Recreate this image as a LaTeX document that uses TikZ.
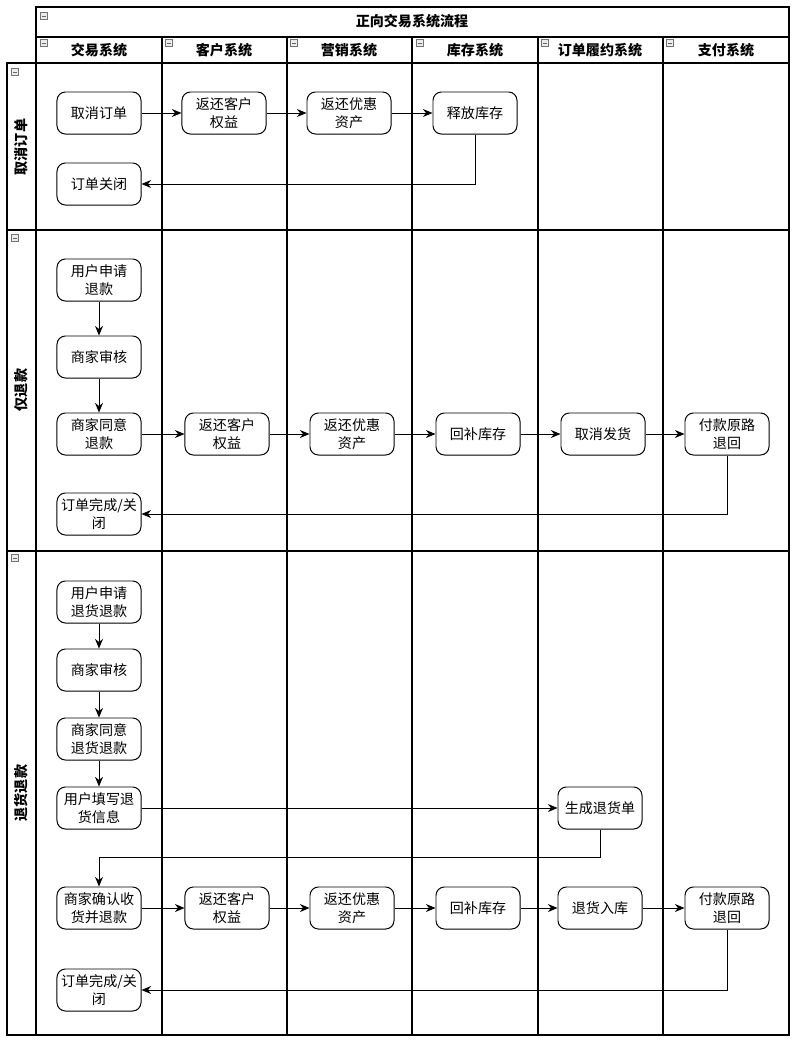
\documentclass[tikz,border=0pt]{standalone}
\usepackage{fontspec}
\setmainfont{Noto Sans CJK SC}
\usetikzlibrary{arrows.meta}

\begin{document}
\begin{tikzpicture}[
    x=0.025cm, y=-0.025cm,
    >={Stealth[length=2.4mm, width=2mm]},
    font=\fontsize{10}{12.5}\selectfont,
    lane/.style={draw, line width=0.9pt},
    act/.style={draw, rectangle, rounded corners=6pt, minimum width=2.1cm, minimum height=1.05cm, align=center, fill=white, line width=0.7pt, inner sep=1pt},
    arrow/.style={->, line width=0.7pt},
    head/.style={font=\fontsize{10}{12}\selectfont\bfseries},
    fold/.style={draw=black!55, fill=black!8, minimum size=0.18cm, inner sep=0pt, line width=0.4pt,
        path picture={\draw[black!60, line width=0.5pt] ([xshift=1pt]path picture bounding box.west) -- ([xshift=-1pt]path picture bounding box.east);}}
]
\useasboundingbox (0,0) rectangle (800,1046);

% Pool, lanes and columns
\draw[lane] (36,7) rectangle (789,1035);
\draw[lane] (36,37) -- (789,37);
\draw[lane] (7,63) rectangle (36,1035);
\draw[lane] (7,63) -- (789,63);
\draw[lane] (7,230) -- (789,230);
\draw[lane] (7,551) -- (789,551);
\foreach \cx in {162,287,412,538,663}
    \draw[lane] (\cx,37) -- (\cx,1035);

% Headers
\node[head] (title) at (412,21) {正向交易系统流程};
\node[head] (colTrade) at (99,50) {交易系统};
\node[head] (colCust) at (224,50) {客户系统};
\node[head] (colMkt) at (349,50) {营销系统};
\node[head] (colStock) at (475,50) {库存系统};
\node[head] (colFulfil) at (600,50) {订单履约系统};
\node[head] (colPay) at (726,50) {支付系统};
\node[head, rotate=90] (laneCancel) at (21,147) {取消订单};
\node[head, rotate=90] (laneRefund) at (21,390) {仅退款};
\node[head, rotate=90] (laneReturn) at (21,793) {退货退款};

% Fold marks
\foreach \fx/\fy [count=\i] in {44/16, 44/43, 169/43, 294/43, 420/43, 545/43, 670/43, 15/72, 15/238, 15/558}
    \node[fold] (fold\i) at (\fx,\fy) {};

% Lane 1: cancel order
\node[act] (cancel) at (99,113) {取消订单};
\node[act] (custA) at (224,113) {返还客户\\权益};
\node[act] (mktA) at (349,113) {返还优惠\\资产};
\node[act] (stockA) at (475,113) {释放库存};
\node[act] (closeA) at (99,184) {订单关闭};

% Lane 2: refund only
\node[act] (applyB) at (99,280) {用户申请\\退款};
\node[act] (reviewB) at (99,357) {商家审核};
\node[act] (agreeB) at (99,434) {商家同意\\退款};
\node[act] (custB) at (227,434) {返还客户\\权益};
\node[act] (mktB) at (352,434) {返还优惠\\资产};
\node[act] (stockB) at (478,434) {回补库存};
\node[act] (shipB) at (603,434) {取消发货};
\node[act] (payB) at (727,434) {付款原路\\退回};
\node[act] (doneB) at (99,514) {订单完成/关\\闭};

% Lane 3: return and refund
\node[act] (applyC) at (99,602) {用户申请\\退货退款};
\node[act] (reviewC) at (99,670) {商家审核};
\node[act] (agreeC) at (99,739) {商家同意\\退货退款};
\node[act] (fillC) at (99,808) {用户填写退\\货信息};
\node[act] (genC) at (600,808) {生成退货单};
\node[act] (confirmC) at (99,908) {商家确认收\\货并退款};
\node[act] (custC) at (227,908) {返还客户\\权益};
\node[act] (mktC) at (352,908) {返还优惠\\资产};
\node[act] (stockC) at (478,908) {回补库存};
\node[act] (inC) at (600,908) {退货入库};
\node[act] (payC) at (727,908) {付款原路\\退回};
\node[act] (doneC) at (99,990) {订单完成/关\\闭};
\coordinate (turnC) at (600,857);

% Edges
\draw[arrow] (cancel) -- (custA);
\draw[arrow] (custA) -- (mktA);
\draw[arrow] (mktA) -- (stockA);
\draw[arrow] (stockA.south) |- (closeA.east);

\draw[arrow] (applyB) -- (reviewB);
\draw[arrow] (reviewB) -- (agreeB);
\draw[arrow] (agreeB) -- (custB);
\draw[arrow] (custB) -- (mktB);
\draw[arrow] (mktB) -- (stockB);
\draw[arrow] (stockB) -- (shipB);
\draw[arrow] (shipB) -- (payB);
\draw[arrow] (payB.south) |- (doneB.east);

\draw[arrow] (applyC) -- (reviewC);
\draw[arrow] (reviewC) -- (agreeC);
\draw[arrow] (agreeC) -- (fillC);
\draw[arrow] (fillC) -- (genC);
\draw[arrow] (genC.south) -- (turnC) -| (confirmC.north);
\draw[arrow] (confirmC) -- (custC);
\draw[arrow] (custC) -- (mktC);
\draw[arrow] (mktC) -- (stockC);
\draw[arrow] (stockC) -- (inC);
\draw[arrow] (inC) -- (payC);
\draw[arrow] (payC.south) |- (doneC.east);
\end{tikzpicture}
\end{document}
